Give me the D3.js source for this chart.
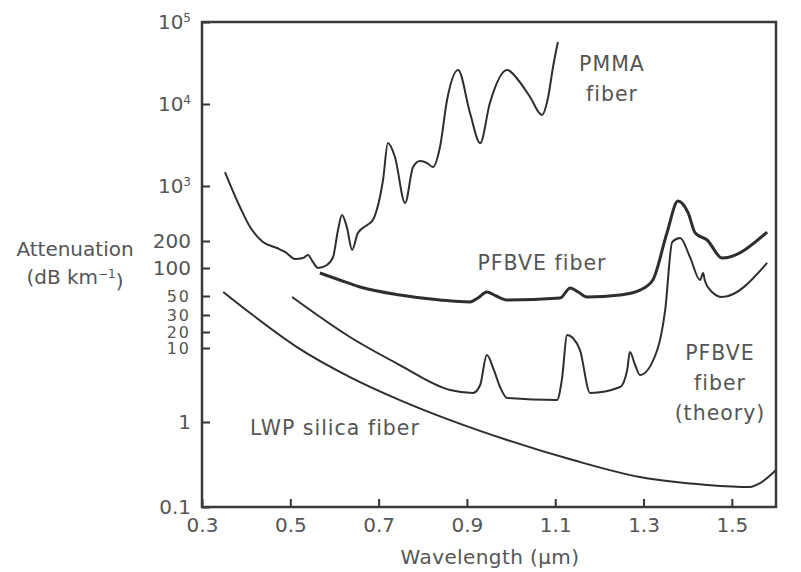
<!DOCTYPE html>
<html lang="en">
<head>
    <meta charset="UTF-8">
    <title>Fiber Attenuation</title>
    <script src="https://d3js.org/d3.v7.min.js"></script>
    <style>
        body { margin: 0; background: #fff; }
        svg text { font-family: "DejaVu Sans", Verdana, sans-serif; fill: #555; }
    </style>
</head>
<body>
    <svg id="chart" width="801" height="572"></svg>
    <script>
        // [wavelength (um), attenuation (dB/km)]
        const pmma = [
            [0.352,1480],[0.386,541],[0.409,301],[0.438,195],[0.470,167],[0.488,151],[0.511,126],
            [0.529,129],[0.540,140],[0.551,117],[0.563,100],[0.583,108],[0.597,133],[0.608,276],
            [0.617,428],[0.628,301],[0.640,159],[0.653,253],[0.674,319],[0.687,370],[0.703,725],
            [0.710,1183],[0.721,3340],[0.737,2260],[0.760,608],[0.778,1706],[0.794,2018],[0.810,1905],
            [0.823,1706],[0.839,2990],[0.855,11190],[0.880,26000],[0.907,7760],[0.930,3340],
            [0.952,10290],[0.991,26000],[1.016,19630],[1.043,12170],[1.070,7350],[1.084,12170],
            [1.095,28250],[1.106,57000]
        ];
        const pfbve = [
            [0.567,88.4],[0.612,74.3],[0.658,62.5],[0.748,51.3],[0.839,44.9],[0.907,42.6],[0.925,47.4],
            [0.945,55.2],[0.966,50],[0.991,44.9],[1.111,47.4],[1.134,61.0],[1.152,55.2],[1.172,48.6],
            [1.247,51.3],[1.292,57.9],[1.321,74.3],[1.353,253],[1.378,644],[1.401,454],[1.417,253],
            [1.444,206],[1.478,129],[1.580,260]
        ];
        const pfbveTheory = [
            [0.504,48.6],[0.635,16.1],[0.748,5.89],[0.862,2.71],[0.914,2.47],[0.930,3.16],[0.945,8.04],
            [0.961,5.05],[0.975,2.97],[0.991,2.11],[1.104,1.98],[1.115,3.70],[1.127,17.6],[1.140,15.4],
            [1.156,9.40],[1.179,2.47],[1.247,2.97],[1.263,5.05],[1.269,8.83],[1.281,5.89],[1.292,4.32],
            [1.331,9.40],[1.349,34.3],[1.365,195],[1.383,218],[1.405,133],[1.428,74.3],[1.435,88.4],
            [1.439,72.4],[1.455,55.2],[1.478,48.6],[1.580,114]
        ];
        const lwpSilica = [
            [0.348,55.2],[0.409,31.6],[0.515,10.4],[0.635,4.05],[0.748,1.98],[0.862,1.06],[0.991,0.614],
            [1.140,0.357],[1.292,0.225],[1.444,0.182],[1.541,0.172],[1.564,0.191],[1.600,0.272]
        ];

        const xTicks = [0.3, 0.5, 0.7, 0.9, 1.1, 1.3, 1.5];
        const yTicks = [0.1, 1, 10, 20, 30, 50, 100, 200, 1e3, 1e4, 1e5];
        const crowdedTicks = [10, 20, 30, 50];

        const svg = d3.select('#chart');
        const plotLeft = 202, plotRight = 776, plotTop = 22, plotBottom = 507;

        const x = d3.scaleLinear().domain([0.3, 1.6]).range([plotLeft, plotRight]);
        // the printed axis is not a clean log scale, so pin each tick where it was drawn
        const y = d3.scaleLog()
            .domain(yTicks)
            .range([507, 422, 348, 332, 315, 296, 268, 241, 186, 104, 22]);

        // curves
        const line = d3.line()
            .x(d => x(d[0]))
            .y(d => y(d[1]))
            .curve(d3.curveMonotoneX);

        const series = [
            { data: pmma, width: 2 },
            { data: pfbve, width: 3 },
            { data: pfbveTheory, width: 2 },
            { data: lwpSilica, width: 2 }
        ];
        svg.append('g')
            .selectAll('path')
            .data(series)
            .enter().append('path')
            .attr('d', d => line(d.data))
            .attr('fill', 'none')
            .attr('stroke', '#2e2e2e')
            .attr('stroke-width', d => d.width)
            .attr('stroke-linejoin', 'round');

        // axes (ticks point inward)
        const yAxis = svg.append('g')
            .attr('transform', `translate(${plotLeft},0)`)
            .call(d3.axisLeft(y).tickValues(yTicks).tickSize(-8).tickPadding(11)
                .tickFormat(d => d >= 1000 ? '' : (d < 1 ? '0.1' : String(d))));
        yAxis.selectAll('.tick text')
            .attr('font-size', d => crowdedTicks.includes(d) ? 16 : 20)
            .style('letter-spacing', d => crowdedTicks.includes(d) ? '2px' : '0px')
            .each(function(d) {
                if (d >= 1000) {
                    const t = d3.select(this);
                    t.append('tspan').text('10');
                    t.append('tspan').attr('dy', '-0.6em').attr('font-size', 12).text(Math.round(Math.log10(d)));
                }
            });

        const xAxis = svg.append('g')
            .attr('transform', `translate(0,${plotBottom})`)
            .call(d3.axisBottom(x).tickValues(xTicks).tickSize(-8).tickPadding(11)
                .tickFormat(d3.format('.1f')));
        xAxis.selectAll('.tick text')
            .attr('font-size', 20);

        svg.selectAll('.domain').remove();
        svg.selectAll('.tick line').attr('stroke', '#333').attr('stroke-width', 2);

        svg.append('rect')
            .attr('x', plotLeft).attr('y', plotTop)
            .attr('width', plotRight - plotLeft).attr('height', plotBottom - plotTop)
            .attr('fill', 'none')
            .attr('stroke', '#3a3a3a')
            .attr('stroke-width', 2.5);

        // axis titles
        svg.append('text')
            .attr('x', 490).attr('y', 564)
            .attr('text-anchor', 'middle')
            .attr('font-size', 20)
            .style('letter-spacing', '0.4px')
            .text('Wavelength (\u00b5m)');

        svg.append('text')
            .attr('x', 75).attr('y', 256)
            .attr('text-anchor', 'middle')
            .attr('font-size', 20)
            .text('Attenuation');
        const unit = svg.append('text')
            .attr('x', 75).attr('y', 284)
            .attr('text-anchor', 'middle')
            .attr('font-size', 20);
        unit.append('tspan').text('(dB km');
        unit.append('tspan').attr('dy', '-0.5em').attr('font-size', 12).text('\u22121');
        unit.append('tspan').attr('dy', '0.5em').text(')');

        // series labels
        const labels = [
            { lines: ['PMMA', 'fiber'], x: 612, y: 71, gap: 30 },
            { lines: ['PFBVE fiber'], x: 542, y: 270, gap: 0 },
            { lines: ['PFBVE', 'fiber', '(theory)'], x: 720, y: 360, gap: 30 },
            { lines: ['LWP silica fiber'], x: 335, y: 435, gap: 0 }
        ];
        labels.forEach(l => {
            l.lines.forEach((s, i) => {
                svg.append('text')
                    .attr('x', l.x).attr('y', l.y + i * l.gap)
                    .attr('text-anchor', 'middle')
                    .attr('font-size', 20.5)
                    .style('letter-spacing', '1px')
                    .text(s);
            });
        });
    </script>
</body>
</html>
